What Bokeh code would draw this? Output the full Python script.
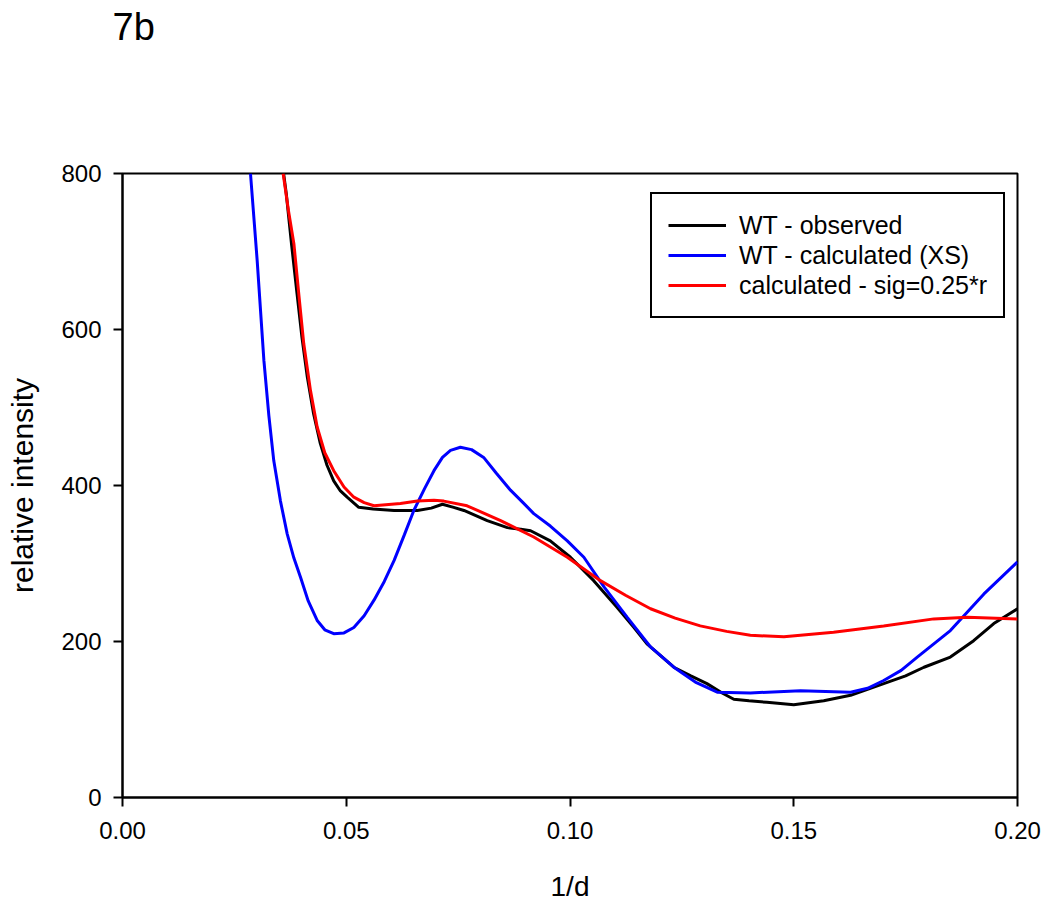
from bokeh.plotting import figure
from bokeh.models import Range1d, FixedTicker, Legend, LegendItem, Title
from bokeh.embed import file_html
from bokeh.resources import INLINE

# ---- data ----
obs_x = [0.0360, 0.0366, 0.0378, 0.0390, 0.0401, 0.0413, 0.0427, 0.0442, 0.0457, 0.0472,
         0.0487, 0.0502, 0.0528, 0.0560, 0.0607, 0.0659, 0.0690, 0.0715, 0.0740, 0.0763,
         0.0815, 0.0860, 0.0890, 0.0912, 0.0956, 0.1001, 0.1053, 0.1105, 0.1143, 0.1172,
         0.1232, 0.1270, 0.1306, 0.1340, 0.1366, 0.1400, 0.1440, 0.1500, 0.1567, 0.1627,
         0.1701, 0.1750, 0.1791, 0.1850, 0.1902, 0.1947, 0.2000]
obs_y = [800, 774, 708, 646, 590, 539, 492, 454, 426, 406,
         393, 385, 372, 370, 368, 368, 371, 376, 372, 368,
         355, 346, 344, 342, 329, 308, 278, 244, 218, 197,
         167, 156, 146, 134, 126, 124, 122, 119, 124, 131,
         146, 156, 167, 180, 201, 223, 242]

xs_x = [0.0286, 0.0301, 0.0316, 0.0327, 0.0338, 0.0353, 0.0368, 0.0383, 0.0398, 0.0415,
        0.0435, 0.0452, 0.0472, 0.0495, 0.0517, 0.0540, 0.0562, 0.0585, 0.0607, 0.0630,
        0.0651, 0.0675, 0.0696, 0.0715, 0.0733, 0.0755, 0.0780, 0.0807, 0.0835, 0.0867,
        0.0895, 0.0919, 0.0956, 0.0994, 0.1031, 0.1076, 0.1128, 0.1180, 0.1232, 0.1280,
        0.1329, 0.1403, 0.1515, 0.1627, 0.1665, 0.1701, 0.1740, 0.1776, 0.1850, 0.1925,
        0.2000]
xs_y = [800, 688, 560, 490, 432, 380, 338, 307, 282, 252,
        227, 215, 210, 211, 218, 233, 253, 277, 304, 337,
        368, 396, 419, 436, 445, 449, 446, 436, 416, 394,
        378, 364, 348, 329, 308, 270, 231, 193, 167, 148,
        135, 134, 137, 135, 140, 150, 163, 180, 214, 261,
        302]

sig_x = [0.0359, 0.0371, 0.0383, 0.0394, 0.0405, 0.0420, 0.0435, 0.0452, 0.0472, 0.0495,
         0.0517, 0.0540, 0.0562, 0.0621, 0.0659, 0.0696, 0.0718, 0.0770, 0.0845, 0.0919,
         0.0994, 0.1068, 0.1125, 0.1180, 0.1235, 0.1291, 0.1350, 0.1403, 0.1478, 0.1589,
         0.1701, 0.1813, 0.1888, 0.2000]
sig_y = [800, 752, 710, 645, 582, 522, 475, 442, 419, 398,
         385, 378, 374, 377, 380, 381, 380, 374, 355, 334,
         308, 278, 259, 242, 230, 220, 213, 208, 206, 212,
         220, 229, 231, 229]

series_names = ["WT - observed", "WT - calculated (XS)", "calculated - sig=0.25*r"]
series_colors = ["#000000", "#0000FF", "#FF0000"]

x_ticks = [0.0, 0.05, 0.10, 0.15, 0.20]
x_tick_labels = ["0.00", "0.05", "0.10", "0.15", "0.20"]
y_ticks = [0, 200, 400, 600, 800]
y_tick_labels = ["0", "200", "400", "600", "800"]

FONT = "Liberation Sans"

p = figure(frame_width=895, frame_height=624,
           min_border_left=122, min_border_right=32, min_border_top=173, min_border_bottom=108,
           x_range=Range1d(0, 0.2), y_range=Range1d(0, 800),
           output_backend="svg", toolbar_location=None,
           x_axis_label="1/d", y_axis_label="relative intensity",
           title=None)
p.background_fill_color = "white"
p.border_fill_color = "white"
p.outline_line_color = "black"
p.outline_line_alpha = 1.0
p.outline_line_width = 2
p.xgrid.visible = False
p.ygrid.visible = False

# spacer between the frame and the panel title (nearest to the frame first)
spacer = Title(text=" ", text_font_size="2px", standoff=122)
p.add_layout(spacer, "above")
main_title = Title(text="7b", text_font=FONT, text_font_size="38px",
                   text_font_style="normal", text_color="black",
                   align="left", offset=-10, standoff=0)
p.add_layout(main_title, "above")

for ax in (p.xaxis[0], p.yaxis[0]):
    ax.axis_line_color = "black"
    ax.axis_line_width = 2
    ax.major_tick_line_width = 2
    ax.major_tick_out = 9
    ax.major_tick_in = 0
    ax.minor_tick_out = 0
    ax.minor_tick_in = 0
    ax.major_label_text_font = FONT
    ax.major_label_text_font_size = "24px"
    ax.major_label_text_color = "black"
    ax.axis_label_text_font_style = "normal"
    ax.axis_label_text_color = "black"
    ax.axis_label_text_font = FONT

p.xaxis.axis_label_text_font_size = "28px"
p.yaxis.axis_label_text_font_size = "30px"
p.xaxis.major_label_standoff = 15
p.yaxis.major_label_standoff = 12
p.xaxis.ticker = FixedTicker(ticks=x_ticks)
p.xaxis.major_label_overrides = {t: l for t, l in zip(x_ticks, x_tick_labels)}
p.yaxis.ticker = FixedTicker(ticks=y_ticks)
p.yaxis.major_label_overrides = {t: l for t, l in zip(y_ticks, y_tick_labels)}
p.xaxis.axis_label_standoff = 29
p.yaxis.axis_label_standoff = 19

r1 = p.line(obs_x, obs_y, line_color=series_colors[0], line_width=3)
r2 = p.line(xs_x, xs_y, line_color=series_colors[1], line_width=3)
r3 = p.line(sig_x, sig_y, line_color=series_colors[2], line_width=3)

legend = Legend(items=[LegendItem(label=series_names[0], renderers=[r1]),
                       LegendItem(label=series_names[1], renderers=[r2]),
                       LegendItem(label=series_names[2], renderers=[r3])],
                location=(528, 479))
legend.label_text_font = FONT
legend.label_text_font_size = "25px"
legend.label_text_color = "black"
legend.label_height = 30
legend.glyph_height = 30
legend.glyph_width = 58
legend.label_standoff = 13
legend.spacing = 0
legend.padding = 16
legend.margin = 0
legend.border_line_color = "black"
legend.border_line_alpha = 1.0
legend.border_line_width = 2
legend.background_fill_color = "white"
legend.background_fill_alpha = 1.0
p.add_layout(legend, "center")

open("out.html", "w").write(file_html(p, INLINE))
